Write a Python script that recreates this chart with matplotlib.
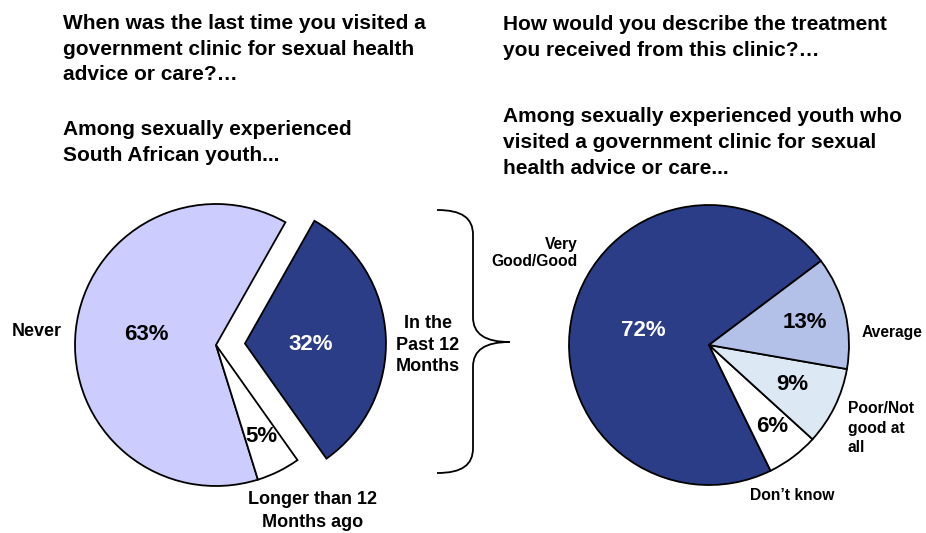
import matplotlib
matplotlib.use('Agg')
import matplotlib.pyplot as plt
from matplotlib.path import Path
from matplotlib.patches import PathPatch

plt.rcParams['font.family'] = ['Liberation Sans', 'DejaVu Sans']
plt.rcParams['font.weight'] = 'bold'

# left pie: last visit to a government clinic
visit_labels = ['Never', 'Longer than 12\nMonths ago', 'In the\nPast 12\nMonths']
visit_values = [63, 5, 32]
visit_colors = ['#CCCCFF', '#FFFFFF', '#2B3D87']

# right pie: treatment received
treat_labels = ['Very\nGood/Good', "Don\u2019t know", 'Poor/Not\ngood at\nall', 'Average']
treat_values = [72, 6, 9, 13]
treat_colors = ['#2B3D87', '#FFFFFF', '#DCE9F5', '#B3C0E8']

W, H = 926, 533
fig = plt.figure(figsize=(W / 100, H / 100), dpi=100)
ax = fig.add_axes([0, 0, 1, 1])

def Y(y):
    # pixel row from top -> data y
    return H - y

wedge = dict(edgecolor='black', linewidth=1.3)

# explode is in data units here (pixels), not a fraction of the radius
ax.pie(visit_values, colors=visit_colors, startangle=60.5, counterclock=True,
       explode=[0, 0, 29], center=(216, Y(345)), radius=141,
       wedgeprops=wedge, frame=True)
ax.pie(treat_values, colors=treat_colors, startangle=36.9, counterclock=True,
       center=(709, Y(345)), radius=140, wedgeprops=wedge, frame=True)

ax.set_xlim(0, W)
ax.set_ylim(0, H)
ax.set_aspect('equal')
ax.axis('off')

# titles
tfs = 15
ax.text(63, Y(14), 'When was the last time you visited a\ngovernment clinic for sexual health\nadvice or care?\u2026',
        fontsize=tfs, ha='left', va='top', linespacing=1.45)
ax.text(63, Y(120), 'Among sexually experienced\nSouth African youth...',
        fontsize=tfs, ha='left', va='top', linespacing=1.45)
ax.text(503, Y(15), 'How would you describe the treatment\nyou received from this clinic?\u2026',
        fontsize=tfs, ha='left', va='top', linespacing=1.45)
ax.text(503, Y(107), 'Among sexually experienced youth who\nvisited a government clinic for sexual\nhealth advice or care...',
        fontsize=tfs, ha='left', va='top', linespacing=1.45)

# percentages, left pie
pct_pos_left = [(146, 335), (261, 437), (311, 345)]
pct_col_left = ['black', 'black', 'white']
for v, (x, y), c in zip(visit_values, pct_pos_left, pct_col_left):
    ax.text(x, Y(y), f'{v}%', fontsize=16, ha='center', va='center', color=c)

# category labels, left pie
ax.text(12, Y(332), visit_labels[0], fontsize=13, ha='left', va='center')
ax.text(313, Y(511), visit_labels[1], fontsize=13, ha='center', va='center', linespacing=1.45)
ax.text(428, Y(345), visit_labels[2], fontsize=13, ha='center', va='center', linespacing=1.37)

# percentages, right pie
pct_pos_right = [(643, 330), (772, 427), (792, 385), (805, 323)]
pct_col_right = ['white', 'black', 'black', 'black']
for v, (x, y), c in zip(treat_values, pct_pos_right, pct_col_right):
    ax.text(x, Y(y), f'{v}%', fontsize=16, ha='center', va='center', color=c)

# category labels, right pie
lfs = 11.25
ax.text(578, Y(253), treat_labels[0], fontsize=lfs, ha='right', va='center', linespacing=1.24)
ax.text(792, Y(496), treat_labels[1], fontsize=lfs, ha='center', va='center')
ax.text(848, Y(428), treat_labels[2], fontsize=lfs, ha='left', va='center', linespacing=1.4)
ax.text(862, Y(333), treat_labels[3], fontsize=lfs, ha='left', va='center')

# curly brace linking the two pies
bx, tip_x, top, mid, bot = 473, 510, 210, 342, 473
verts = [
    (437, Y(top)), (462, Y(top)), (bx, Y(top + 8)), (bx, Y(top + 25)),
    (bx, Y(mid - 25)),
    (bx, Y(mid - 8)), (485, Y(mid)), (tip_x, Y(mid)),
    (485, Y(mid)), (bx, Y(mid + 8)), (bx, Y(mid + 25)),
    (bx, Y(bot - 25)),
    (bx, Y(bot - 8)), (462, Y(bot)), (437, Y(bot)),
]
codes = [Path.MOVETO, Path.CURVE4, Path.CURVE4, Path.CURVE4,
         Path.LINETO,
         Path.CURVE4, Path.CURVE4, Path.CURVE4,
         Path.CURVE4, Path.CURVE4, Path.CURVE4,
         Path.LINETO,
         Path.CURVE4, Path.CURVE4, Path.CURVE4]
ax.add_patch(PathPatch(Path(verts, codes), facecolor='none', edgecolor='black', linewidth=1.3))

fig.savefig('out.png', dpi=100, facecolor='white')
